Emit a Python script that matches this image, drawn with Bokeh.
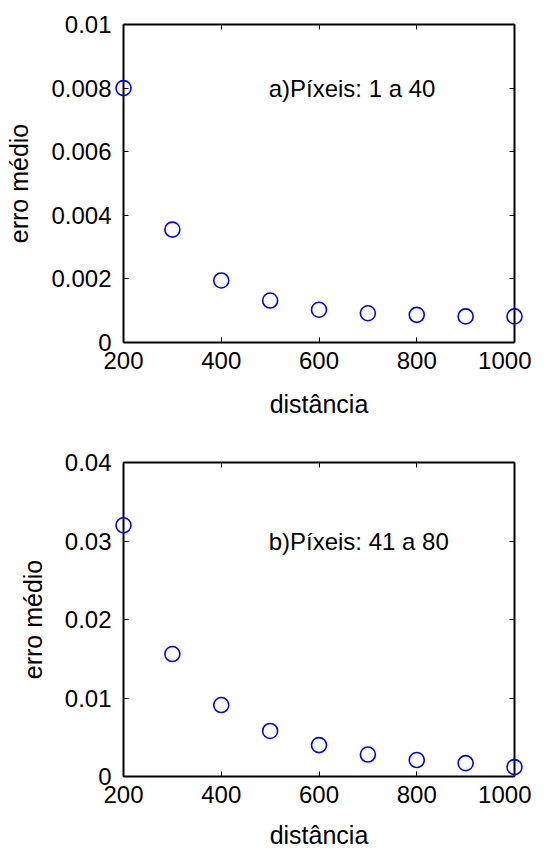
from bokeh.plotting import figure
from bokeh.layouts import column
from bokeh.models import LinearAxis, FixedTicker, CustomJSTickFormatter, Range1d
from bokeh.embed import file_html
from bokeh.resources import INLINE

distancia = [200, 300, 400, 500, 600, 700, 800, 900, 1000]
erro_a = [0.0080, 0.00355, 0.00195, 0.00132, 0.00103, 0.00092, 0.00087, 0.00082, 0.00082]
erro_b = [0.0320, 0.0156, 0.0091, 0.0058, 0.0040, 0.0028, 0.0021, 0.0017, 0.0012]
xticks = [200, 400, 600, 800, 1000]
yticks_a = [0, 0.002, 0.004, 0.006, 0.008, 0.01]
yticks_b = [0, 0.01, 0.02, 0.03, 0.04]
label_a = "a)Píxeis: 1 a 40"
label_b = "b)Píxeis: 41 a 80"

FONT = "Liberation Sans"
fmt_code = "return String(parseFloat(tick.toPrecision(6)));"
blank_code = "return '';"


def make_panel(y, yticks, ymax, label, label_y, height, top, bottom, xlab_standoff):
    p = figure(width=531, height=height, output_backend="svg", toolbar_location=None,
               x_range=Range1d(200, 1000), y_range=Range1d(0, ymax),
               min_border_left=123, min_border_right=17,
               min_border_top=top, min_border_bottom=bottom,
               x_axis_label="distância", y_axis_label="erro médio")
    p.outline_line_color = None
    p.grid.visible = False
    p.background_fill_color = "white"
    p.add_layout(LinearAxis(), "above")
    p.add_layout(LinearAxis(), "right")
    for ax in p.xaxis:
        ax.ticker = FixedTicker(ticks=xticks)
    for ax in p.yaxis:
        ax.ticker = FixedTicker(ticks=yticks)
        ax.formatter = CustomJSTickFormatter(code=fmt_code)
    for ax in p.axis:
        ax.axis_line_width = 2
        ax.axis_line_color = "black"
        ax.major_tick_in = 5
        ax.major_tick_out = 0
        ax.major_tick_line_width = 1
        ax.minor_tick_line_color = None
        ax.major_label_text_font = FONT
        ax.major_label_text_font_size = "24px"
        ax.major_label_text_color = "black"
        ax.axis_label_text_font = FONT
        ax.axis_label_text_font_size = "25px"
        ax.axis_label_text_font_style = "normal"
        ax.axis_label_text_color = "black"
    for ax in (p.above[0], p.right[0]):
        ax.formatter = CustomJSTickFormatter(code=blank_code)
        ax.axis_label = None
        ax.major_label_standoff = 0
    p.below[0].major_label_standoff = 9
    p.below[0].axis_label_standoff = xlab_standoff
    p.left[0].major_label_standoff = 12
    p.left[0].axis_label_standoff = 15
    p.scatter(distancia, y, marker="circle", size=15, fill_color=None,
              line_color="#0000ff", line_width=1.6, level="overlay")
    p.text(x=[497], y=[label_y], text=[label], text_font_size="24px",
           text_baseline="middle", text_align="left", text_color="black",
           text_font={"value": FONT})
    return p


p1 = make_panel(erro_a, yticks_a, 0.01, label_a, 0.008, 420, 24, 78, 18)
p2 = make_panel(erro_b, yticks_b, 0.04, label_b, 0.03, 431, 42, 73, 15)

layout = column(p1, p2, spacing=0)
open("out.html", "w").write(file_html(layout, INLINE))
